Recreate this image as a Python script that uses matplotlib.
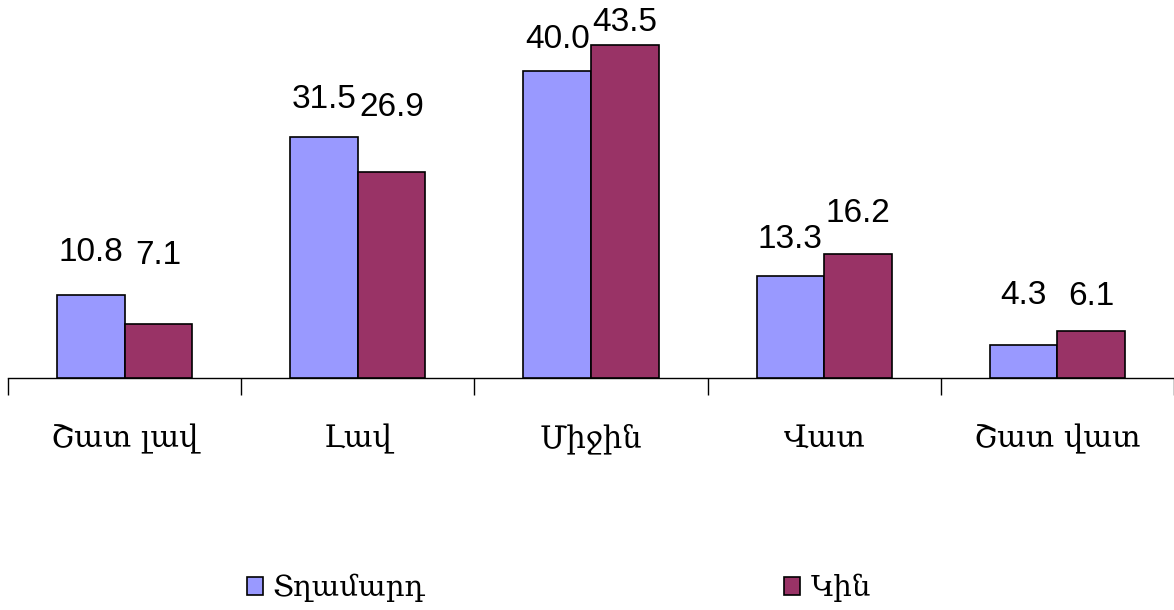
import matplotlib
matplotlib.use("Agg")
import matplotlib.pyplot as plt
from matplotlib.patches import Patch
import numpy as np

categories = ["Շատ լավ", "Լավ", "Միջին", "Վատ", "Շատ վատ"]
series_names = ["Տղամարդ", "Կին"]
men = [10.8, 31.5, 40.0, 13.3, 4.3]
women = [7.1, 26.9, 43.5, 16.2, 6.1]

# label offsets (pixels above bar top, to label centre) - layout only
men_off = [43, 37, 32, 37, 50]
women_off = [68, 64, 22, 40, 35]

colors = ["#9999FF", "#993366"]

W, H = 1174, 610
fig = plt.figure(figsize=(W / 100, H / 100), dpi=100)
ax = fig.add_axes([8 / W, 1 - 378 / H, (1174 - 8) / W, 368 / H])

x = np.arange(len(categories))
bw = 0.29
b1 = ax.bar(x - bw / 2, men, bw, color=colors[0], edgecolor="black", linewidth=1.2, zorder=3)
b2 = ax.bar(x + bw / 2, women, bw, color=colors[1], edgecolor="black", linewidth=1.2, zorder=3)

for rects, vals, offs in [(b1, men, men_off), (b2, women, women_off)]:
    for r, v, o in zip(rects, vals, offs):
        ax.annotate(f"{v:.1f}", (r.get_x() + r.get_width() / 2, v),
                    xytext=(0, o), textcoords="offset pixels",
                    ha="center", va="center", fontsize=24,
                    family="Liberation Sans", color="black")

ax.set_xlim(-0.5, len(categories) - 0.5)
ax.set_ylim(0, 48)
for s in ["left", "right", "top"]:
    ax.spines[s].set_visible(False)
ax.spines["bottom"].set_linewidth(1.0)
ax.set_yticks([])
ax.set_xticks(x)
ax.set_xticklabels(categories, family="DejaVu Serif", fontsize=22)
ax.tick_params(axis="x", which="major", length=0, pad=33)
ax.set_xticks(np.arange(-0.5, len(categories), 1.0), minor=True)
ax.tick_params(axis="x", which="minor", length=12, width=1.0, direction="out")

handles = [Patch(facecolor=c, edgecolor="black", linewidth=1.2) for c in colors]
fig.legend(handles, series_names, loc="center", bbox_to_anchor=(0.476, 1 - 588 / H),
           ncol=2, frameon=False, prop={"family": "DejaVu Serif", "size": 21},
           handlelength=0.55, handleheight=0.55, handletextpad=0.35, columnspacing=12.3)

fig.savefig("out.png", dpi=100)
